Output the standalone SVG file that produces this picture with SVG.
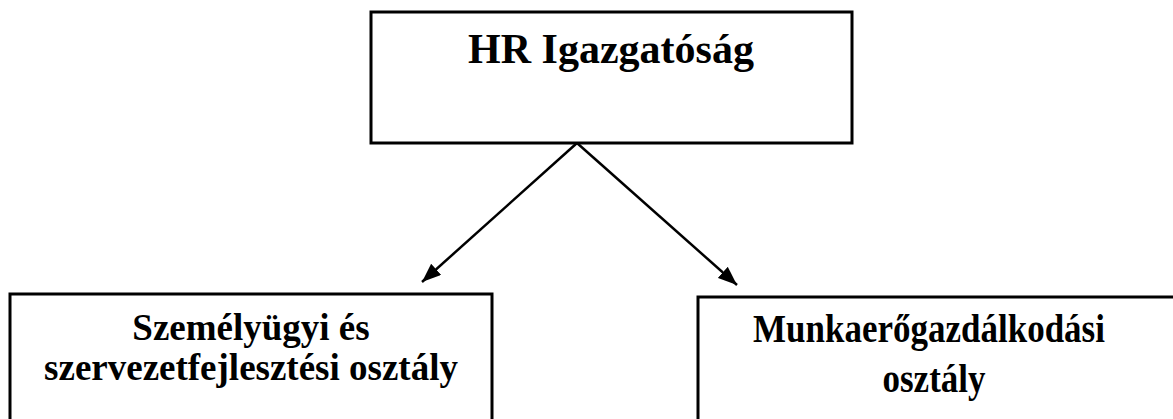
<svg xmlns="http://www.w3.org/2000/svg" width="1173" height="419" viewBox="0 0 1173 419">
<style>
.box{fill:#fff;stroke:#000;stroke-width:3}
.t{font-family:"Liberation Serif","Times New Roman",serif;font-weight:bold;fill:#000;text-anchor:middle}
.conn{stroke:#000;stroke-width:2.5;fill:none}
</style>
<defs>
<marker id="arr" viewBox="0 0 10 10" refX="10" refY="5" markerWidth="19" markerHeight="15" markerUnits="userSpaceOnUse" orient="auto" preserveAspectRatio="none">
<path d="M0,0 L10,5 L0,10 z" fill="#000"/>
</marker>
</defs>
<rect width="1173" height="419" fill="#fff"/>
<g id="connectors">
<line class="conn" x1="577" y1="143" x2="422" y2="282" marker-end="url(#arr)"/>
<line class="conn" x1="577" y1="143" x2="737" y2="285" marker-end="url(#arr)"/>
</g>
<g id="hr">
<rect class="box" x="371" y="12" width="481" height="131"/>
<text class="t" x="611" y="63" font-size="42">HR Igazgatóság</text>
</g>
<g id="szemelyugyi">
<rect class="box" x="10" y="294" width="482" height="140"/>
<text class="t" transform="translate(251,340) scale(1,1.04)" font-size="37">Személyügyi és</text>
<text class="t" transform="translate(251,380) scale(1,1.04)" font-size="37">szervezetfejlesztési osztály</text>
</g>
<g id="munkaero">
<rect class="box" x="698" y="297" width="490" height="140"/>
<text class="t" transform="translate(929,342) scale(1,1.12)" font-size="35">Munkaerőgazdálkodási</text>
<text class="t" transform="translate(934,392) scale(1,1.12)" font-size="35">osztály</text>
</g>
</svg>
